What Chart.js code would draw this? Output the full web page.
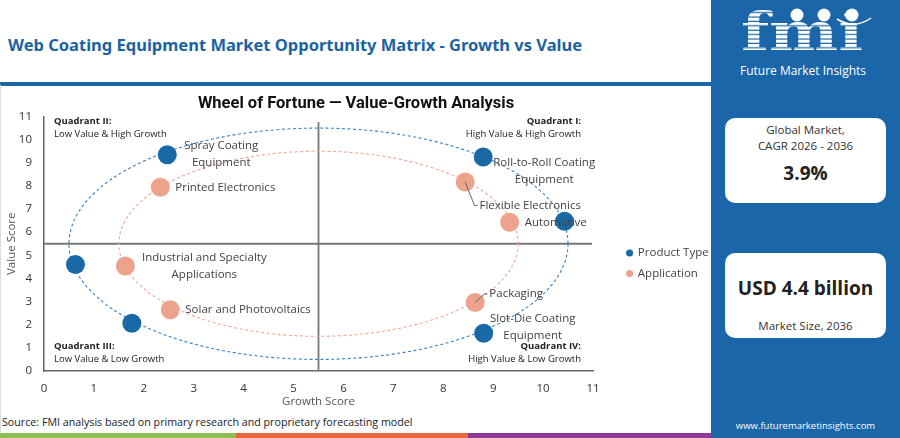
<!DOCTYPE html>
<html>
<head>
<meta charset="utf-8">
<title>Web Coating Equipment Market Opportunity Matrix</title>
<script src="https://cdn.jsdelivr.net/npm/chart.js@4.4.1/dist/chart.umd.min.js"></script>
<style>
  body { margin: 0; width: 900px; height: 438px; overflow: hidden; background: #fff; font-family: 'Open Sans', sans-serif; position: relative; }
  #pageTitle { position: absolute; left: 8px; top: 33px; font: 700 16.5px 'Noto Sans', sans-serif; color: #1b63a0; white-space: nowrap; }
  #rule { position: absolute; left: 0; top: 82px; width: 711px; height: 3.5px; background: #1a66a8; }
  #frame { position: absolute; left: 0; top: 85px; width: 1px; height: 348px; background: #ddd; }
  #chartBox { position: absolute; left: 0; top: 86px; width: 712px; height: 324px; }
  #source { position: absolute; left: 2px; top: 414px; font-size: 10.7px; line-height: 16px; color: #222; white-space: nowrap; }
  .strip { position: absolute; top: 433px; height: 5px; }
  #side { position: absolute; left: 711px; top: 0; width: 189px; height: 438px; background: #1a66a8; }
  .card { position: absolute; left: 14px; width: 161px; height: 85px; background: #fff; border-radius: 10px; color: #333; }
  .card div { position: absolute; left: 0; width: 100%; text-align: center; white-space: nowrap; }
  .small { font-size: 11.5px; line-height: 16px; }
  .big { font-size: 19px; font-weight: 700; line-height: 24px; color: #222; }
  #site { position: absolute; left: 0; width: 189px; top: 419px; text-align: center; color: #fff; font-size: 9.5px; line-height: 14px; }
</style>
</head>
<body>
<div id="pageTitle">Web Coating Equipment Market Opportunity Matrix - Growth vs Value</div>
<div id="rule"></div>
<div id="frame"></div>
<div id="chartBox"><canvas id="matrixChart"></canvas></div>
<div id="source">Source: FMI analysis based on primary research and proprietary forecasting model</div>
<div class="strip" style="left:0;width:236px;background:#8cc04e"></div>
<div class="strip" style="left:236px;width:232px;background:#e8683a"></div>
<div class="strip" style="left:468px;width:243px;background:#8e3b97"></div>

<div id="side">
  <svg width="189" height="90" style="position:absolute;left:0;top:0">
    <defs>
      <pattern id="stripes" patternUnits="userSpaceOnUse" width="10" height="4.4">
        <rect x="0" y="0" width="10" height="3.2" fill="#fff"></rect>
      </pattern>
    </defs>
    <text x="30" y="50" font-family="DejaVu Serif" font-weight="700" font-size="52" textLength="122" lengthAdjust="spacingAndGlyphs" fill="url(#stripes)">fmi</text>
    <circle cx="86" cy="15" r="6.5" fill="#fff"></circle>
    <circle cx="113" cy="15" r="6.5" fill="#fff"></circle>
    <circle cx="141" cy="15" r="6.5" fill="#fff"></circle>
    <path d="M126 19 Q143 30 160 18" stroke="#fff" stroke-width="1.5" fill="none"></path>
    <text x="29" y="75" font-family="Open Sans" font-size="12.5" textLength="126" lengthAdjust="spacingAndGlyphs" fill="#fff">Future Market Insights</text>
  </svg>
  <div class="card" style="top:118px">
    <div class="small" style="top:4px">Global Market,</div>
    <div class="small" style="top:20px">CAGR 2026 - 2036</div>
    <div class="big" style="top:43px">3.9%</div>
  </div>
  <div class="card" style="top:253px">
    <div class="big" style="top:23px">USD 4.4 billion</div>
    <div class="small" style="top:65px">Market Size, 2036</div>
  </div>
  <div id="site">www.futuremarketinsights.com</div>
</div>

<script>
const productNames = ['Spray Coating Equipment', 'Roll-to-Roll Coating Equipment', null, 'Slot-Die Coating Equipment', null, null];
const productGrowth = [2.47, 8.80, 10.43, 8.81, 1.76, 0.63];
const productValue = [9.35, 9.25, 6.47, 1.63, 2.06, 4.60];

const applicationNames = ['Printed Electronics', 'Flexible Electronics', 'Automotive', 'Packaging', 'Solar and Photovoltaics', 'Industrial and Specialty Applications'];
const applicationGrowth = [2.33, 8.44, 9.33, 8.64, 2.53, 1.63];
const applicationValue = [7.94, 8.17, 6.43, 2.96, 2.65, 4.54];

const seriesNames = ['Product Type', 'Application'];
const quadrantTitles = ['Quadrant I:', 'Quadrant II:', 'Quadrant III:', 'Quadrant IV:'];
const quadrantNotes = ['High Value & High Growth', 'Low Value & High Growth', 'Low Value & Low Growth', 'High Value & Low Growth'];
const axisMin = 0, axisMax = 11;
const midScore = 5.5;
const ringRadii = [5, 4];

const BLUE = '#1a69a7';
const SALMON = '#eda28b';
const ringColors = ['#3483c2', '#f0a893'];
const LABEL_FONT = '11.5px "Open Sans"';

// where each point label sits relative to its dot (pixels)
const labelPlacement = {
  'Spray Coating Equipment': { dx: 54, dy: 0, align: 'center', lines: ['Spray Coating', 'Equipment'] },
  'Roll-to-Roll Coating Equipment': { dx: 61, dy: 14.5, align: 'center', lines: ['Roll-to-Roll Coating', 'Equipment'] },
  'Slot-Die Coating Equipment': { dx: 49, dy: -6.5, align: 'center', lines: ['Slot-Die Coating', 'Equipment'] },
  'Printed Electronics': { dx: 15, dy: 0, align: 'left' },
  'Flexible Electronics': { dx: 65, dy: 23.6, align: 'center', leader: true },
  'Automotive': { dx: 15, dy: 0.7, align: 'left' },
  'Packaging': { dx: 41, dy: -8.6, align: 'center', leader: true },
  'Solar and Photovoltaics': { dx: 15, dy: 0, align: 'left' },
  'Industrial and Specialty Applications': { dx: 79, dy: 0, align: 'center', lines: ['Industrial and Specialty', 'Applications'] }
};

function toPoints(xs, ys) {
  return xs.map((v, i) => ({ x: v, y: ys[i] }));
}

const matrixDecor = {
  id: 'matrixDecor',
  beforeLayout(chart) {
    const lg = chart.legend;
    if (lg && !lg.fixedWidth) {
      const fit = lg.fit;
      lg.fit = function () { fit.call(this); this.width = 119; };
      lg.fixedWidth = true;
    }
  },
  afterLayout(chart) {
    const lg = chart.legend, ca = chart.chartArea;
    lg.left = ca.right + 25;
    lg.right = lg.left + 100;
    lg.top = (ca.top + ca.bottom) / 2 - 5.6;
  },
  beforeDatasetsDraw(chart) {
    const { ctx, chartArea: ca, scales: { x, y } } = chart;
    const cx = x.getPixelForValue(midScore), cy = y.getPixelForValue(midScore);
    ctx.save();

    ctx.strokeStyle = '#777';
    ctx.lineWidth = 1.8;
    ctx.beginPath();
    ctx.moveTo(cx, y.getPixelForValue(axisMin));
    ctx.lineTo(cx, ca.top + 5.5);
    ctx.moveTo(ca.left, cy);
    ctx.lineTo(ca.right - 1, cy);
    ctx.stroke();

    ctx.lineWidth = 1.1;
    ctx.setLineDash([3, 2.5]);
    ringRadii.forEach((r, i) => {
      ctx.strokeStyle = ringColors[i];
      ctx.beginPath();
      ctx.ellipse(cx, cy, x.getPixelForValue(midScore + r) - cx, cy - y.getPixelForValue(midScore + r), 0, 0, Math.PI * 2);
      ctx.stroke();
    });
    ctx.setLineDash([]);

    ctx.textBaseline = 'middle';
    ctx.fillStyle = '#222';
    const spots = [
      [ca.right - 12, ca.top + 5, 'right'],
      [ca.left + 10, ca.top + 5, 'left'],
      [ca.left + 10, ca.bottom - 25, 'left'],
      [ca.right - 12, ca.bottom - 25, 'right']
    ];
    spots.forEach(([qx, qy, align], i) => {
      ctx.textAlign = align;
      ctx.font = '700 9.5px "Open Sans"';
      ctx.fillText(quadrantTitles[i], qx, qy);
      ctx.font = '9.5px "Open Sans"';
      ctx.fillText(quadrantNotes[i], qx, qy + 13);
    });
    ctx.restore();
  },
  afterDatasetsDraw(chart) {
    const ctx = chart.ctx;
    ctx.save();
    ctx.font = LABEL_FONT;
    ctx.fillStyle = '#444';
    ctx.strokeStyle = '#666';
    ctx.lineWidth = 1;
    ctx.textBaseline = 'middle';
    chart.data.datasets.forEach((ds, di) => {
      chart.getDatasetMeta(di).data.forEach((pt, i) => {
        const name = ds.names[i];
        if (!name) return;
        const p = labelPlacement[name];
        const lines = p.lines || [name];
        const lx = pt.x + p.dx, ly = pt.y + p.dy;
        ctx.textAlign = p.align;
        lines.forEach((t, k) => ctx.fillText(t, lx, ly + (k - (lines.length - 1) / 2) * 17));
        if (p.leader) {
          const w = ctx.measureText(lines[0]).width;
          const left = p.align === 'center' ? lx - w / 2 : lx;
          ctx.beginPath();
          ctx.moveTo(pt.x, pt.y);
          ctx.lineTo(left - 5, ly);
          ctx.lineTo(left - 2, ly);
          ctx.stroke();
        }
      });
    });
    ctx.restore();
  }
};

new Chart(document.getElementById('matrixChart'), {
  type: 'scatter',
  data: {
    datasets: [
      { label: seriesNames[0], names: productNames, data: toPoints(productGrowth, productValue), backgroundColor: BLUE, borderWidth: 0, pointRadius: 9.5, pointHoverRadius: 10 },
      { label: seriesNames[1], names: applicationNames, data: toPoints(applicationGrowth, applicationValue), backgroundColor: SALMON, borderWidth: 0, pointRadius: 9.5, pointHoverRadius: 10 }
    ]
  },
  options: {
    responsive: true,
    maintainAspectRatio: false,
    animation: false,
    layout: { padding: 0 },
    plugins: {
      title: {
        display: true,
        text: 'Wheel of Fortune \u2014 Value-Growth Analysis',
        color: '#111',
        font: { family: 'Roboto', size: 16.5, weight: '700' },
        padding: { top: 7.7, bottom: 3 }
      },
      legend: {
        position: 'right',
        align: 'start',
        fullSize: false,
        labels: {
          usePointStyle: true,
          pointStyle: 'circle',
          boxWidth: 5,
          boxHeight: 5,
          padding: 9.1,
          color: '#444',
          font: { family: 'Open Sans', size: 11.5 }
        }
      },
      tooltip: { enabled: true }
    },
    scales: {
      x: {
        type: 'linear',
        min: axisMin,
        max: axisMax,
        grid: { display: false, drawTicks: false },
        border: { display: true, color: '#666', width: 1.5 },
        ticks: { stepSize: 1, padding: 10.4, color: '#333', font: { family: 'Open Sans', size: 11.5 } },
        title: { display: true, text: 'Growth Score', color: '#555', padding: { top: 0, bottom: 1 }, font: { family: 'Open Sans', size: 11.5 } },
        afterFit(scale) { scale.height = 39; }
      },
      y: {
        type: 'linear',
        min: axisMin,
        max: axisMax,
        grid: { display: false, drawTicks: false },
        border: { display: true, color: '#666', width: 1.5 },
        ticks: { stepSize: 1, padding: 12, color: '#333', font: { family: 'Open Sans', size: 11.5 } },
        title: { display: true, text: 'Value Score', color: '#555', padding: { top: 4.8, bottom: 0 }, font: { family: 'Open Sans', size: 11.5 } },
        afterFit(scale) { scale.width = 44; }
      }
    }
  },
  plugins: [matrixDecor]
});
</script>
</body>
</html>
